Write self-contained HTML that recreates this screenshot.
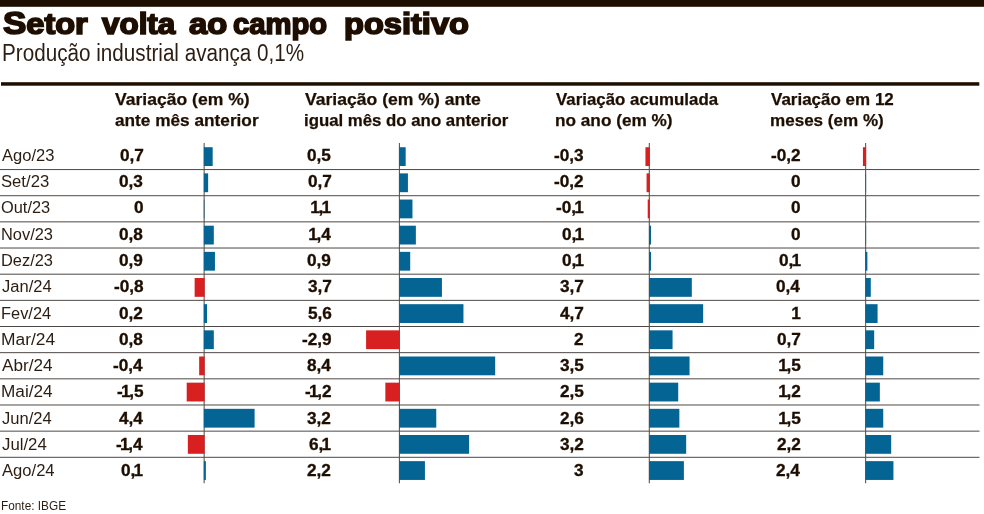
<!DOCTYPE html>
<html lang="pt-BR"><head><meta charset="utf-8"><title>Setor volta ao campo positivo</title>
<style>
html,body{margin:0;padding:0;background:#fff;}
body{width:984px;height:514px;position:relative;overflow:hidden;font-family:"Liberation Sans",sans-serif;color:#1d0e00;}
.abs{position:absolute;white-space:nowrap;transform-origin:0 0;}
.topbar{left:0;top:0;width:984px;height:6.8px;background:#1d0e00;}
.title{font-size:29.4px;font-weight:bold;line-height:36px;-webkit-text-stroke:1.7px #1d0e00;}
.sub{font-size:23px;line-height:28px;color:#2b1d12;}
.rule{left:1.2px;top:82.4px;width:978px;height:3.2px;background:#1d0e00;}
.h{font-size:17.4px;font-weight:bold;line-height:21px;-webkit-text-stroke:0.25px #1d0e00;}
.lbl{font-size:16px;line-height:20px;color:#2b1d12;}
.val{font-size:15.8px;font-weight:bold;line-height:20px;-webkit-text-stroke:0.3px #1d0e00;}
.o{margin:0 -1.2px 0 -1.7px}
.gl{left:0;width:979.5px;height:1.2px;background:#524c48;}
.ax{width:1px;background:#524c48;}
.bar{height:18.8px;}
.src{font-size:13.5px;line-height:16px;color:#2b1d12;}
</style></head><body>

<svg class="abs" style="left:0;top:0" width="984" height="514" viewBox="0 0 984 514">
<rect x="0" y="0" width="984" height="6.8" fill="#1d0e00"/>
<rect x="1" y="82.2" width="978.3" height="3.5" fill="#1d0e00"/>
<line x1="0" x2="979.5" y1="169.55" y2="169.55" stroke="#433e3b" stroke-width="0.95"/>
<line x1="0" x2="979.5" y1="195.71" y2="195.71" stroke="#433e3b" stroke-width="0.95"/>
<line x1="0" x2="979.5" y1="221.87" y2="221.87" stroke="#433e3b" stroke-width="0.95"/>
<line x1="0" x2="979.5" y1="248.03" y2="248.03" stroke="#433e3b" stroke-width="0.95"/>
<line x1="0" x2="979.5" y1="274.19" y2="274.19" stroke="#433e3b" stroke-width="0.95"/>
<line x1="0" x2="979.5" y1="300.35" y2="300.35" stroke="#433e3b" stroke-width="0.95"/>
<line x1="0" x2="979.5" y1="326.51" y2="326.51" stroke="#433e3b" stroke-width="0.95"/>
<line x1="0" x2="979.5" y1="352.67" y2="352.67" stroke="#433e3b" stroke-width="0.95"/>
<line x1="0" x2="979.5" y1="378.83" y2="378.83" stroke="#433e3b" stroke-width="0.95"/>
<line x1="0" x2="979.5" y1="404.99" y2="404.99" stroke="#433e3b" stroke-width="0.95"/>
<line x1="0" x2="979.5" y1="431.15" y2="431.15" stroke="#433e3b" stroke-width="0.95"/>
<line x1="0" x2="979.5" y1="457.31" y2="457.31" stroke="#433e3b" stroke-width="0.95"/>
<line x1="204.15" x2="204.15" y1="143" y2="483.3" stroke="#55504d" stroke-width="1.05"/>
<line x1="399.4" x2="399.4" y1="143" y2="483.3" stroke="#55504d" stroke-width="1.05"/>
<line x1="649.3" x2="649.3" y1="143" y2="483.3" stroke="#55504d" stroke-width="1.05"/>
<line x1="865.65" x2="865.65" y1="143" y2="483.3" stroke="#55504d" stroke-width="1.05"/>
<rect x="203.85" y="147.22" width="8.83" height="18.8" fill="#046493"/>
<rect x="399.10" y="147.22" width="6.57" height="18.8" fill="#046493"/>
<rect x="645.45" y="147.22" width="4.30" height="18.8" fill="#d7201f"/>
<rect x="862.93" y="147.22" width="3.17" height="18.8" fill="#d7201f"/>
<rect x="203.85" y="173.38" width="4.30" height="18.8" fill="#046493"/>
<rect x="399.10" y="173.38" width="8.83" height="18.8" fill="#046493"/>
<rect x="646.58" y="173.38" width="3.17" height="18.8" fill="#d7201f"/>
<rect x="865.15" y="173.38" width="1" height="18.8" fill="#046493" opacity="0.55"/>
<rect x="203.65" y="199.54" width="1" height="18.8" fill="#046493" opacity="0.55"/>
<rect x="399.10" y="199.54" width="13.36" height="18.8" fill="#046493"/>
<rect x="647.72" y="199.54" width="2.03" height="18.8" fill="#d7201f"/>
<rect x="865.15" y="199.54" width="1" height="18.8" fill="#046493" opacity="0.55"/>
<rect x="203.85" y="225.70" width="9.96" height="18.8" fill="#046493"/>
<rect x="399.10" y="225.70" width="16.76" height="18.8" fill="#046493"/>
<rect x="649.00" y="225.70" width="2.03" height="18.8" fill="#046493"/>
<rect x="865.15" y="225.70" width="1" height="18.8" fill="#046493" opacity="0.55"/>
<rect x="203.85" y="251.86" width="11.10" height="18.8" fill="#046493"/>
<rect x="399.10" y="251.86" width="11.10" height="18.8" fill="#046493"/>
<rect x="649.00" y="251.86" width="2.03" height="18.8" fill="#046493"/>
<rect x="865.35" y="251.86" width="2.03" height="18.8" fill="#046493"/>
<rect x="194.64" y="278.02" width="9.96" height="18.8" fill="#d7201f"/>
<rect x="399.10" y="278.02" width="42.82" height="18.8" fill="#046493"/>
<rect x="649.00" y="278.02" width="42.82" height="18.8" fill="#046493"/>
<rect x="865.35" y="278.02" width="5.43" height="18.8" fill="#046493"/>
<rect x="203.85" y="304.18" width="3.17" height="18.8" fill="#046493"/>
<rect x="399.10" y="304.18" width="64.35" height="18.8" fill="#046493"/>
<rect x="649.00" y="304.18" width="54.15" height="18.8" fill="#046493"/>
<rect x="865.35" y="304.18" width="12.23" height="18.8" fill="#046493"/>
<rect x="203.85" y="330.34" width="9.96" height="18.8" fill="#046493"/>
<rect x="366.09" y="330.34" width="33.76" height="18.8" fill="#d7201f"/>
<rect x="649.00" y="330.34" width="23.56" height="18.8" fill="#046493"/>
<rect x="865.35" y="330.34" width="8.83" height="18.8" fill="#046493"/>
<rect x="199.17" y="356.50" width="5.43" height="18.8" fill="#d7201f"/>
<rect x="399.10" y="356.50" width="96.07" height="18.8" fill="#046493"/>
<rect x="649.00" y="356.50" width="40.55" height="18.8" fill="#046493"/>
<rect x="865.35" y="356.50" width="17.89" height="18.8" fill="#046493"/>
<rect x="186.70" y="382.66" width="17.89" height="18.8" fill="#d7201f"/>
<rect x="385.35" y="382.66" width="14.50" height="18.8" fill="#d7201f"/>
<rect x="649.00" y="382.66" width="29.22" height="18.8" fill="#046493"/>
<rect x="865.35" y="382.66" width="14.50" height="18.8" fill="#046493"/>
<rect x="203.85" y="408.82" width="50.75" height="18.8" fill="#046493"/>
<rect x="399.10" y="408.82" width="37.16" height="18.8" fill="#046493"/>
<rect x="649.00" y="408.82" width="30.36" height="18.8" fill="#046493"/>
<rect x="865.35" y="408.82" width="17.89" height="18.8" fill="#046493"/>
<rect x="187.84" y="434.98" width="16.76" height="18.8" fill="#d7201f"/>
<rect x="399.10" y="434.98" width="70.01" height="18.8" fill="#046493"/>
<rect x="649.00" y="434.98" width="37.16" height="18.8" fill="#046493"/>
<rect x="865.35" y="434.98" width="25.83" height="18.8" fill="#046493"/>
<rect x="203.85" y="461.14" width="2.03" height="18.8" fill="#046493"/>
<rect x="399.10" y="461.14" width="25.83" height="18.8" fill="#046493"/>
<rect x="649.00" y="461.14" width="34.89" height="18.8" fill="#046493"/>
<rect x="865.35" y="461.14" width="28.09" height="18.8" fill="#046493"/>
</svg>
<div class="abs title" style="left:2.71px;top:5.30px;transform:scaleX(1.1064)"><span style="font-size:1.075em">S</span>etor</div>
<div class="abs title" style="left:101.95px;top:6.30px;transform:scaleX(1.0680)">volta</div>
<div class="abs title" style="left:188.60px;top:6.30px;transform:scaleX(1.1153)">ao</div>
<div class="abs title" style="left:232.59px;top:6.30px;transform:scaleX(0.9932)">campo</div>
<div class="abs title" style="left:344.18px;top:6.30px;transform:scaleX(1.1092)">positivo</div>
<div class="abs sub" style="left:1.60px;top:39.40px;transform:scaleX(0.8988)">Produção industrial avança 0,1%</div>
<div class="abs h" style="left:115.30px;top:89.00px;transform:scaleX(1.0088)">Variação (em %)</div>
<div class="abs h" style="left:114.55px;top:110.00px;transform:scaleX(0.9905)">ante mês anterior</div>
<div class="abs h" style="left:305.30px;top:89.00px;transform:scaleX(1.0104)">Variação (em %) ante</div>
<div class="abs h" style="left:304.38px;top:110.00px;transform:scaleX(0.9654)">igual mês do ano anterior</div>
<div class="abs h" style="left:556.31px;top:89.00px;transform:scaleX(0.9691)">Variação acumulada</div>
<div class="abs h" style="left:555.37px;top:110.00px;transform:scaleX(0.9893)">no ano (em %)</div>
<div class="abs h" style="left:770.80px;top:89.00px;transform:scaleX(0.9769)">Variação em 12</div>
<div class="abs h" style="left:769.88px;top:110.00px;transform:scaleX(0.9806)">meses (em %)</div>
<div class="abs lbl" style="left:1.95px;top:145.95px;transform:scaleX(1.0333)">Ago/23</div>
<div class="abs lbl" style="left:1.24px;top:172.22px;transform:scaleX(1.0410)">Set/23</div>
<div class="abs lbl" style="left:1.37px;top:198.49px;transform:scaleX(1.0239)">Out/23</div>
<div class="abs lbl" style="left:0.84px;top:224.76px;transform:scaleX(1.0255)">Nov/23</div>
<div class="abs lbl" style="left:0.84px;top:251.03px;transform:scaleX(1.0255)">Dez/23</div>
<div class="abs lbl" style="left:1.75px;top:277.30px;transform:scaleX(1.0330)">Jan/24</div>
<div class="abs lbl" style="left:0.84px;top:303.57px;transform:scaleX(1.0254)">Fev/24</div>
<div class="abs lbl" style="left:0.75px;top:329.84px;transform:scaleX(1.0873)">Mar/24</div>
<div class="abs lbl" style="left:1.94px;top:356.11px;transform:scaleX(1.0726)">Abr/24</div>
<div class="abs lbl" style="left:0.77px;top:382.38px;transform:scaleX(1.0746)">Mai/24</div>
<div class="abs lbl" style="left:1.75px;top:408.65px;transform:scaleX(1.0330)">Jun/24</div>
<div class="abs lbl" style="left:1.75px;top:434.92px;transform:scaleX(1.0489)">Jul/24</div>
<div class="abs lbl" style="left:1.95px;top:461.19px;transform:scaleX(1.0371)">Ago/24</div>
<div class="abs src" style="left:1.31px;top:497.70px;transform:scaleX(0.8756)">Fonte: IBGE</div>
<div class="abs val" style="left:119.51px;top:145.95px;transform:scaleX(1.0900)">0,7</div>
<div class="abs val" style="left:307.43px;top:145.95px;transform:scaleX(1.0900)">0,5</div>
<div class="abs val" style="left:554.26px;top:145.95px;transform:scaleX(1.0900)">-0,3</div>
<div class="abs val" style="left:771.33px;top:145.95px;transform:scaleX(1.0900)">-0,2</div>
<div class="abs val" style="left:119.49px;top:172.22px;transform:scaleX(1.0900)">0,3</div>
<div class="abs val" style="left:307.51px;top:172.22px;transform:scaleX(1.0900)">0,7</div>
<div class="abs val" style="left:554.23px;top:172.22px;transform:scaleX(1.0900)">-0,2</div>
<div class="abs val" style="left:791.46px;top:172.22px;transform:scaleX(1.0900)">0</div>
<div class="abs val" style="left:133.96px;top:198.49px;transform:scaleX(1.0900)">0</div>
<div class="abs val" style="left:312.15px;top:198.49px;transform:scaleX(1.0900)"><span class="o">1</span>,<span class="o">1</span></div>
<div class="abs val" style="left:555.83px;top:198.49px;transform:scaleX(1.0900)">-0,<span class="o">1</span></div>
<div class="abs val" style="left:791.46px;top:198.49px;transform:scaleX(1.0900)">0</div>
<div class="abs val" style="left:119.43px;top:224.76px;transform:scaleX(1.0900)">0,8</div>
<div class="abs val" style="left:310.19px;top:224.76px;transform:scaleX(1.0900)"><span class="o">1</span>,4</div>
<div class="abs val" style="left:561.73px;top:224.76px;transform:scaleX(1.0900)">0,<span class="o">1</span></div>
<div class="abs val" style="left:791.46px;top:224.76px;transform:scaleX(1.0900)">0</div>
<div class="abs val" style="left:119.49px;top:251.03px;transform:scaleX(1.0900)">0,9</div>
<div class="abs val" style="left:307.49px;top:251.03px;transform:scaleX(1.0900)">0,9</div>
<div class="abs val" style="left:561.73px;top:251.03px;transform:scaleX(1.0900)">0,<span class="o">1</span></div>
<div class="abs val" style="left:778.83px;top:251.03px;transform:scaleX(1.0900)">0,<span class="o">1</span></div>
<div class="abs val" style="left:113.80px;top:277.30px;transform:scaleX(1.0900)">-0,8</div>
<div class="abs val" style="left:307.51px;top:277.30px;transform:scaleX(1.0900)">3,7</div>
<div class="abs val" style="left:559.91px;top:277.30px;transform:scaleX(1.0900)">3,7</div>
<div class="abs val" style="left:776.42px;top:277.30px;transform:scaleX(1.0900)">0,4</div>
<div class="abs val" style="left:119.46px;top:303.57px;transform:scaleX(1.0900)">0,2</div>
<div class="abs val" style="left:307.51px;top:303.57px;transform:scaleX(1.0900)">5,6</div>
<div class="abs val" style="left:559.91px;top:303.57px;transform:scaleX(1.0900)">4,7</div>
<div class="abs val" style="left:793.17px;top:303.57px;transform:scaleX(1.0900)"><span class="o">1</span></div>
<div class="abs val" style="left:119.43px;top:329.84px;transform:scaleX(1.0900)">0,8</div>
<div class="abs val" style="left:301.86px;top:329.84px;transform:scaleX(1.0900)">-2,9</div>
<div class="abs val" style="left:574.26px;top:329.84px;transform:scaleX(1.0900)">2</div>
<div class="abs val" style="left:777.01px;top:329.84px;transform:scaleX(1.0900)">0,7</div>
<div class="abs val" style="left:113.10px;top:356.11px;transform:scaleX(1.0900)">-0,4</div>
<div class="abs val" style="left:306.92px;top:356.11px;transform:scaleX(1.0900)">8,4</div>
<div class="abs val" style="left:559.83px;top:356.11px;transform:scaleX(1.0900)">3,5</div>
<div class="abs val" style="left:780.20px;top:356.11px;transform:scaleX(1.0900)"><span class="o">1</span>,5</div>
<div class="abs val" style="left:117.06px;top:382.38px;transform:scaleX(1.0900)">-<span class="o">1</span>,5</div>
<div class="abs val" style="left:305.10px;top:382.38px;transform:scaleX(1.0900)">-<span class="o">1</span>,2</div>
<div class="abs val" style="left:559.83px;top:382.38px;transform:scaleX(1.0900)">2,5</div>
<div class="abs val" style="left:780.23px;top:382.38px;transform:scaleX(1.0900)"><span class="o">1</span>,2</div>
<div class="abs val" style="left:118.92px;top:408.65px;transform:scaleX(1.0900)">4,4</div>
<div class="abs val" style="left:307.46px;top:408.65px;transform:scaleX(1.0900)">3,2</div>
<div class="abs val" style="left:559.91px;top:408.65px;transform:scaleX(1.0900)">2,6</div>
<div class="abs val" style="left:780.20px;top:408.65px;transform:scaleX(1.0900)"><span class="o">1</span>,5</div>
<div class="abs val" style="left:116.37px;top:434.92px;transform:scaleX(1.0900)">-<span class="o">1</span>,4</div>
<div class="abs val" style="left:309.33px;top:434.92px;transform:scaleX(1.0900)">6,<span class="o">1</span></div>
<div class="abs val" style="left:559.86px;top:434.92px;transform:scaleX(1.0900)">3,2</div>
<div class="abs val" style="left:776.96px;top:434.92px;transform:scaleX(1.0900)">2,2</div>
<div class="abs val" style="left:121.33px;top:461.19px;transform:scaleX(1.0900)">0,<span class="o">1</span></div>
<div class="abs val" style="left:307.46px;top:461.19px;transform:scaleX(1.0900)">2,2</div>
<div class="abs val" style="left:574.25px;top:461.19px;transform:scaleX(1.0900)">3</div>
<div class="abs val" style="left:776.42px;top:461.19px;transform:scaleX(1.0900)">2,4</div>
</body></html>
